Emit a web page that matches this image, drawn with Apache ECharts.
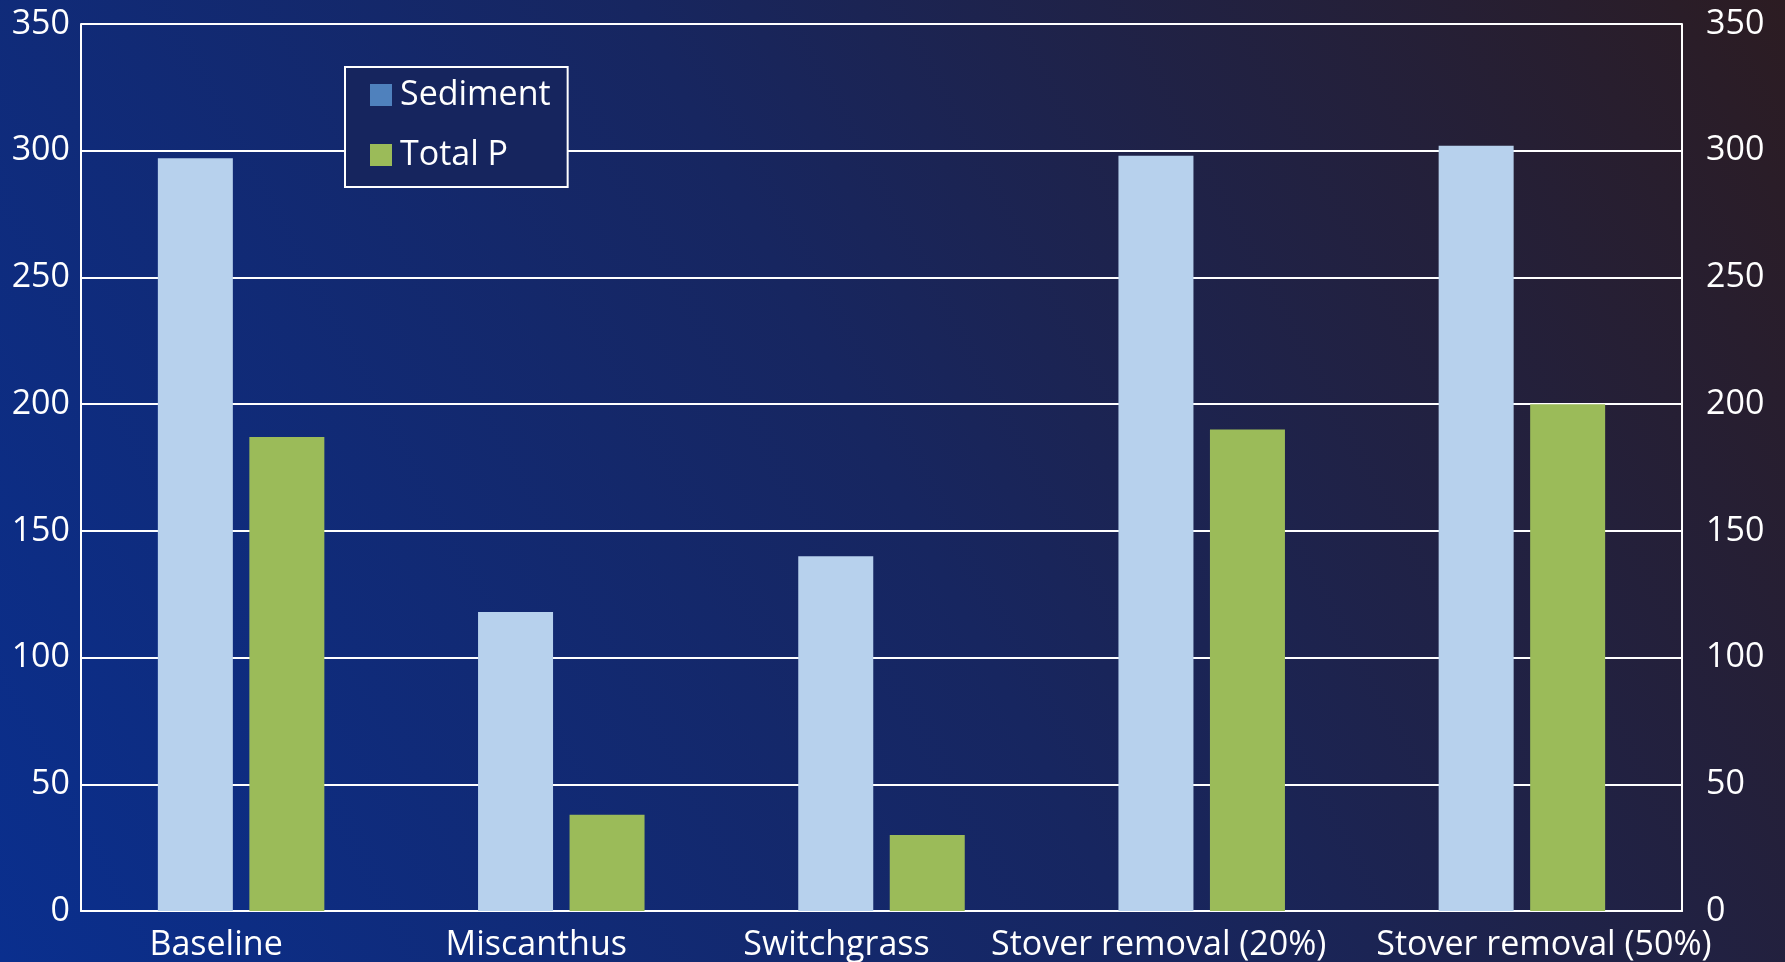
<!DOCTYPE html>
<html>
<head>
<meta charset="utf-8">
<script src="https://cdn.jsdelivr.net/npm/echarts@6/dist/echarts.min.js"></script>
<style>
html,body{margin:0;padding:0;width:1785px;height:962px;overflow:hidden;}
#c{width:1785px;height:962px;}
</style>
</head>
<body>
<div id="c"></div>
<script>
const categories = ['Baseline', 'Miscanthus', 'Switchgrass', 'Stover removal (20%)', 'Stover removal (50%)'];
const sediment = [297, 118, 140, 298, 302];
const totalP = [187, 38, 30, 190, 200];
const yTicks = [0, 50, 100, 150, 200, 250, 300, 350];
// horizontal label shift (px) to mimic the reference's hand-placed labels
const labelShift = [-25, -25, -45, -43, 22];

const chart = echarts.init(document.getElementById('c'), null, {renderer: 'canvas'});
const font = '"Open Sans", "Noto Sans", sans-serif';
const catData = categories.map((c, i) => {
  const d = labelShift[i];
  return {
    value: c,
    textStyle: {padding: d >= 0 ? [0, 0, 0, 2 * d] : [0, -2 * d, 0, 0]}
  };
});
const option = {
  backgroundColor: {
    type: 'linear', x: 0, y: 1, x2: 1, y2: 0,
    colorStops: [
      {offset: 0, color: '#0a2f8e'},
      {offset: 0.5, color: '#172660'},
      {offset: 1, color: '#2c1c22'}
    ]
  },
  animation: false,
  textStyle: {fontFamily: font},
  grid: {left: 81, right: 103, top: 24, bottom: 51},
  legend: {
    orient: 'vertical',
    left: 345, top: 67,
    padding: [11, 17, 15, 25],
    itemGap: 26,
    itemWidth: 22, itemHeight: 22,
    icon: 'rect',
    backgroundColor: '#16255e',
    borderColor: '#ffffff', borderWidth: 2,
    textStyle: {color: '#ffffff', fontSize: 34, fontFamily: font, padding: [0, 0, 0, 3]},
    data: [
      {name: 'Sediment', itemStyle: {color: '#4f81bd'}},
      {name: 'Total P', itemStyle: {color: '#9bbb59'}}
    ]
  },
  xAxis: {
    type: 'category',
    data: catData,
    axisLine: {lineStyle: {color: '#ffffff', width: 2}},
    axisTick: {show: false},
    axisLabel: {color: '#ffffff', fontSize: 34, margin: 17, fontFamily: font, interval: 0, hideOverlap: false}
  },
  yAxis: [
    {
      type: 'value', min: 0, max: 350, interval: 50, position: 'left',
      axisLine: {show: true, lineStyle: {color: '#ffffff', width: 2}},
      axisTick: {show: false},
      axisLabel: {color: '#ffffff', fontSize: 34, margin: 11, fontFamily: font,
        formatter: v => yTicks.includes(v) ? String(v) : ''},
      splitLine: {show: true, lineStyle: {color: '#ffffff', width: 2}}
    },
    {
      type: 'value', min: 0, max: 350, interval: 50, position: 'right',
      axisLine: {show: true, lineStyle: {color: '#ffffff', width: 2}},
      axisTick: {show: false},
      axisLabel: {color: '#ffffff', fontSize: 34, margin: 24, fontFamily: font,
        formatter: v => yTicks.includes(v) ? String(v) : ''},
      splitLine: {show: false}
    }
  ],
  series: [
    {name: 'Sediment', type: 'bar', data: sediment, barWidth: 75, barGap: '22%',
     itemStyle: {color: '#b7d1ed'}},
    {name: 'Total P', type: 'bar', data: totalP, barWidth: 75,
     itemStyle: {color: '#9bbb59'}}
  ]
};
chart.setOption(option);
</script>
</body>
</html>
